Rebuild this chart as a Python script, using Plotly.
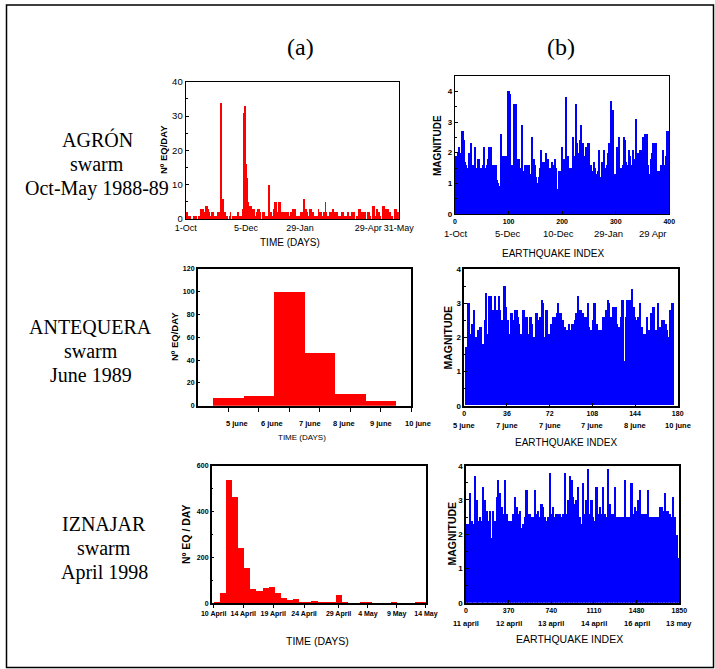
import plotly.graph_objects as go
import numpy as np

W, H = 715, 669

# ---------------- DATA ----------------
# (a) AGRON: earthquakes per day, 1 Oct 1988 - 31 May 1989
agron_daily = [2,2,1, 1,1, 0,0,0, 1,0,1,1, 0,0,1,0, 3,3,1,3, 2,2, 4,4, 3,3, 2,1, 1,2, 2,
               1,0,1,1, 1,2,2, 2,34,3, 3, 6,2, 2,0, 1,0,0,1, 2,0, 0,1,0,1, 1,1, 2,2, 1,1,0,1, 3,
               31,33,33,16,12,5,4,4, 4,3,3,3,3, 1,1, 2, 3,3, 2,2, 0,0, 2,2, 1,1,1,1,1, 10,
               2,2, 1,1, 3,3, 5,5, 2,2, 5,5, 1,1, 2,2,2,1,2,2, 2,2, 1,1, 2,2, 3,3,3, 1,1,
               0,1,0,1, 2,2, 1,1, 6,2, 3,2, 1,1, 3,1,3, 2,2, 0,1,0,1, 1, 3,1, 2,2, 1,1, 2,2,
               5,2, 1,1,1, 2,2,2, 3,3, 2,2,2,2, 0,1,0,1, 1, 2,2, 1,1,1,1, 2,2, 1,1, 0,
               2,2,2,2, 0,0, 1,1, 3,3, 2,2, 1,1, 2,2, 0,0, 2,2, 1,1, 0,0, 4,4, 1,1, 3,3, 2,2, 1,
               0,0, 4,4, 3,3, 1, 3,3, 2,2, 0, 1,1, 0,0, 3,3,2,2,2]
agron_time_labels = ["1-Oct", "5-Dec", "29-Jan", "29-Apr", "31-May"]
agron_time_label_days = [0, 68.5, 130, 207.5, 242]

# (b) AGRON: magnitude by earthquake index (each value = 2 consecutive events)
agron_mag = [1.9,1.8,2.0,2.2,1.4,2.0,2.7,2.7,2.4,1.7,
             1.6,1.5,1.5,2.0,2.3,1.5,1.6,1.6,2.2,1.4,
             1.5,1.8,1.8,1.5,1.2,1.5,1.6,2.2,1.5,1.6,
             1.8,2.2,1.6,2.2,1.6,1.4,1.6,1.6,1.6,1.1,
             1.0,0.9,2.6,1.5,1.9,1.9,1.9,1.9,1.5,4.0,
             4.0,3.9,1.6,1.4,1.6,3.6,3.6,1.3,1.8,1.8,
             1.5,1.2,2.9,1.4,1.2,1.6,1.6,1.3,1.6,1.6,
             1.3,2.5,1.6,1.8,1.6,1.2,1.0,0.9,1.2,1.5,
             2.1,1.2,1.7,1.7,2.0,1.7,1.8,1.4,1.5,1.4,
             1.7,1.6,1.5,1.8,1.5,0.8,0.35,1.4,1.4,2.2,
             1.8,1.8,0.6,3.8,1.8,1.9,1.5,1.5,1.4,1.5,
             2.5,1.9,3.6,2.3,1.9,2.0,2.4,2.9,2.3,2.3,
             1.8,1.9,2.2,1.9,2.3,2.3,1.6,1.4,1.1,1.7,
             1.5,1.3,1.2,1.4,2.1,1.0,1.2,1.7,1.6,2.1,
             1.5,1.6,2.0,2.3,2.3,3.7,3.4,3.4,1.2,1.3,
             1.3,2.2,2.1,2.5,1.5,1.5,1.6,2.5,2.4,1.7,
             1.5,1.6,2.1,1.9,1.5,1.6,2.1,1.8,3.1,2.0,
             2.0,1.8,2.1,1.6,2.1,2.5,1.9,2.6,2.6,2.6,
             1.6,1.3,1.8,2.0,2.3,2.3,2.3,2.3,1.3,1.4,
             1.2,1.4,1.6,1.6,2.1,1.6,1.9,2.7,2.7,1.9]
agron_n_events = 400
agron_index_ticks = [0, 100, 200, 300, 400]
agron_date_labels = ["1-Oct", "5-Dec", "10-Dec", "29-Jan", "29 Apr"]
agron_date_label_index = [1, 98, 193, 287, 368]

# (a) ANTEQUERA: earthquakes per day, June 1989
antequera_days = [1, 2, 3, 4, 5, 6]
antequera_daily = [7, 8.5, 99.5, 46.5, 10, 4.3]
antequera_time_labels = ["5 june", "6 june", "7 june", "8 june", "9 june", "10 june"]
antequera_time_label_pos = [1.29, 2.44, 3.67, 4.81, 6.01, 7.22]

# (b) ANTEQUERA: magnitude by earthquake index
antequera_mag = [0,1.7,1.7,3.0,3.0,2.1,2.4,2.4,2.8,2.0,
                 2.0,2.2,2.2,2.3,2.3,1.8,1.8,2.5,3.3,1.7,
                 2.1,3.2,3.2,2.8,2.8,2.6,3.2,2.8,2.8,3.2,
                 2.8,2.5,2.5,3.5,3.5,2.9,2.5,2.5,2.1,2.7,
                 2.7,2.3,2.5,2.8,2.8,2.6,2.4,2.1,2.1,2.8,
                 2.8,2.3,2.6,2.6,2.1,2.6,2.6,2.4,2.0,2.0,
                 2.7,2.7,2.3,2.5,2.6,3.1,3.0,2.0,2.0,2.8,
                 2.8,2.1,2.1,2.4,2.4,2.6,2.6,2.4,2.7,3.0,
                 2.7,2.7,2.5,2.5,2.3,2.3,2.2,2.2,2.4,2.2,
                 2.2,2.4,2.4,2.5,2.7,2.7,3.2,2.8,2.8,2.7,
                 2.7,2.4,2.6,2.6,3.0,2.3,2.2,2.2,2.5,3.0,
                 3.0,2.4,2.4,2.2,2.2,2.2,2.2,2.6,2.6,2.8,
                 2.8,3.1,3.0,2.6,2.6,2.9,2.9,2.9,2.9,2.4,
                 2.3,2.3,2.6,3.1,3.1,1.3,2.6,3.1,3.1,3.1,
                 3.1,3.4,2.9,2.9,2.6,2.5,2.6,2.6,3.0,2.3,
                 2.3,2.1,2.1,2.1,2.6,2.2,2.2,2.7,2.6,2.9,
                 2.9,2.2,2.2,3.0,2.3,2.3,2.2,2.5,2.5,2.4,
                 2.4,2.2,2.0,2.8,2.8,3.0,3.0,0,0,0]
antequera_n_events = 180
antequera_index_ticks = [0, 36, 72, 108, 144, 180]
antequera_date_labels = ["5 june", "7 june", "7 june", "7 june", "8 june", "10 june"]

# (a) IZNAJAR: earthquakes per day, 10 April - 14 May 1998
iznajar_daily = [3, 46, 538, 465, 243, 154, 62, 55, 67, 71, 48, 23, 15, 22, 7, 4, 10, 6, 4, 3,
                 36, 6, 2, 2, 3, 4, 2, 2, 2, 4, 2, 2, 2, 4, 3]
iznajar_time_labels = ["10 April", "14 April", "19 April", "24 April", "29 April", "4 May", "9 May", "14 May"]
iznajar_time_label_pos = [-0.45, 4.4, 9.3, 14.35, 20.0, 24.8, 29.5, 34.3]

# (b) IZNAJAR: magnitude by earthquake index (each value ~14.5 consecutive events)
iznajar_mag = [2.3,2.3,3.2,2.4,2.3,3.7,3.0,2.4,2.5,2.4,
               3.4,3.0,2.7,2.4,2.7,1.9,2.7,2.4,3.1,3.6,
               3.2,2.8,2.6,3.6,2.6,2.4,2.4,2.4,2.6,3.1,
               2.8,2.6,2.7,2.2,2.3,2.5,3.3,2.6,2.6,2.5,
               2.5,3.3,2.6,2.7,2.5,2.9,2.8,2.5,2.4,2.5,
               3.8,2.6,2.8,2.5,2.6,2.6,2.6,2.5,2.6,3.8,
               2.6,3.0,3.7,3.6,3.1,2.9,3.0,3.4,2.5,2.3,
               3.5,2.6,3.0,3.9,2.6,3.0,2.5,2.4,3.4,2.6,
               2.8,2.6,3.4,2.6,2.5,3.9,2.9,2.6,2.6,3.4,
               2.5,2.5,2.5,2.5,2.5,3.6,2.5,2.5,2.5,3.5,
               2.6,2.8,2.7,3.0,3.3,2.6,2.6,2.6,2.6,3.3,
               2.5,2.5,2.5,2.5,2.5,2.5,2.8,2.8,2.7,3.2,
               2.7,2.7,2.6,2.5,3.1,2.5,2.0,1.3]
iznajar_n_events = 1850
iznajar_index_ticks = [0, 370, 740, 1110, 1480, 1850]
iznajar_date_labels = ["11 april", "12 april", "13 april", "14 april", "16 april", "13 may"]

# ---------------- LAYOUT HELPERS ----------------
SANS = "Liberation Sans, Arial, sans-serif"
SERIF = "Liberation Serif, Times New Roman, serif"
RED = "#ff0000"
BLUE = "#0000ff"


def px(xp):
    return xp / W


def py(yp):
    return 1 - yp / H


def dom(x0, x1, y0, y1):
    return [px(x0), px(x1)], [py(y1), py(y0)]


def base_axis(**kw):
    d = dict(showline=True, linecolor="black", linewidth=1.2, mirror=True,
             showgrid=False, zeroline=False, ticks="inside", ticklen=3,
             tickcolor="black", tickwidth=1, fixedrange=True, tickangle=0,
             automargin=False)
    d.update(kw)
    return d


def index_centers(values, n_events):
    step = n_events / len(values)
    return (np.arange(len(values)) + 0.5) * step, step


fig = go.Figure()

# Panel 1
x1 = np.arange(len(agron_daily)) + 0.5
fig.add_trace(go.Bar(x=x1, y=agron_daily, width=1, marker=dict(color=RED, line=dict(width=0)),
                     xaxis="x", yaxis="y"))
# Panel 2
xc, st = index_centers(agron_mag, agron_n_events)
fig.add_trace(go.Bar(x=xc, y=agron_mag, width=st, marker=dict(color=BLUE, line=dict(width=0)),
                     xaxis="x2", yaxis="y2"))
# Panel 3
fig.add_trace(go.Bar(x=antequera_days, y=antequera_daily, width=1,
                     marker=dict(color=RED, line=dict(width=0)), xaxis="x3", yaxis="y3"))
# Panel 4
xc, st = index_centers(antequera_mag, antequera_n_events)
fig.add_trace(go.Bar(x=xc, y=antequera_mag, width=st, marker=dict(color=BLUE, line=dict(width=0)),
                     xaxis="x4", yaxis="y4"))
# Panel 5
fig.add_trace(go.Bar(x=np.arange(len(iznajar_daily)), y=iznajar_daily, width=1,
                     marker=dict(color=RED, line=dict(width=0)), xaxis="x5", yaxis="y5"))
# Panel 6
xc, st = index_centers(iznajar_mag, iznajar_n_events)
fig.add_trace(go.Bar(x=xc, y=iznajar_mag, width=st, marker=dict(color=BLUE, line=dict(width=0)),
                     xaxis="x6", yaxis="y6"))

P3_X0, P3_X1 = 197.7, 411.2
d1x, d1y = dom(185.7, 398.7, 81.7, 219)
d2x, d2y = dom(455, 669.3, 76, 214)
d3x, d3y = dom(P3_X0, P3_X1, 269, 405.7)
d4x, d4y = dom(464.3, 677.7, 269.3, 405.7)
d5x, d5y = dom(211.7, 426, 465.7, 603.3)
d6x, d6y = dom(466, 679.3, 465.7, 602.7)

f_reg9 = dict(family=SANS, size=9, color="black")
f_b8 = dict(family=SANS, size=8, color="black", weight="bold")
f_b7 = dict(family=SANS, size=7, color="black", weight="bold")

P3_RANGE = [0, 7]

layout = dict(
    width=W, height=H, margin=dict(l=0, r=0, t=0, b=0, autoexpand=False), autosize=False,
    paper_bgcolor="white", plot_bgcolor="white", showlegend=False, bargap=0,
    xaxis=base_axis(domain=d1x, anchor="y", range=[0, 242], tickvals=agron_time_label_days,
                    ticktext=agron_time_labels, tickfont=f_reg9, ticks=""),
    yaxis=base_axis(domain=d1y, anchor="x", range=[0, 40], dtick=10, tickfont=dict(family=SANS, size=9.5, color="black"),
                    minor=dict(ticks="inside", ticklen=2, dtick=5, tickcolor="black")),
    xaxis2=base_axis(domain=d2x, anchor="y2", range=[0, 400], tickvals=agron_index_ticks,
                     tickfont=f_b7),
    yaxis2=base_axis(domain=d2y, anchor="x2", range=[0, 4.5], tickvals=[0, 1, 2, 3, 4], tickfont=f_b8,
                     minor=dict(ticks="inside", ticklen=2, dtick=0.5, tickcolor="black")),
    xaxis3=base_axis(domain=d3x, anchor="y3", range=P3_RANGE, tickvals=[1, 2, 3, 4, 5, 6, 7],
                     showticklabels=False, ticks="outside", ticklen=5, linewidth=1.5),
    yaxis3=base_axis(domain=d3y, anchor="x3", range=[0, 120], dtick=20, tickfont=f_b7, linewidth=1.5),
    xaxis4=base_axis(domain=d4x, anchor="y4", range=[0, 180], tickvals=antequera_index_ticks,
                     tickfont=f_b7, linewidth=1.5),
    yaxis4=base_axis(domain=d4y, anchor="x4", range=[0, 4], dtick=1, tickfont=f_b8, linewidth=1.5,
                     minor=dict(ticks="inside", ticklen=2, dtick=0.5, tickcolor="black")),
    xaxis5=base_axis(domain=d5x, anchor="y5", range=[-0.77, 34.31], tickvals=iznajar_time_label_pos,
                     ticktext=iznajar_time_labels, tickfont=dict(family=SANS, size=7, color="black", weight="bold"),
                     ticks="outside", ticklen=3, linewidth=1.5),
    yaxis5=base_axis(domain=d5y, anchor="x5", range=[0, 600], dtick=200, tickfont=f_b7, linewidth=1.5,
                     minor=dict(ticks="inside", ticklen=2, dtick=100, tickcolor="black")),
    xaxis6=base_axis(domain=d6x, anchor="y6", range=[0, 1850], tickvals=iznajar_index_ticks,
                     tickfont=f_b7, linewidth=1.5),
    yaxis6=base_axis(domain=d6y, anchor="x6", range=[0, 4], dtick=1, tickfont=f_b8, linewidth=1.5,
                     minor=dict(ticks="inside", ticklen=2, dtick=0.5, tickcolor="black")),
)
fig.update_layout(**layout)

ann = []


def text_px(x, y, t, size, family=SANS, angle=0, weight="normal", xanchor="center"):
    ann.append(dict(x=px(x), y=py(y), xref="paper", yref="paper", text=t, showarrow=False,
                    xanchor=xanchor, yanchor="middle", textangle=angle,
                    font=dict(family=family, size=size, color="black", weight=weight)))


# column headers
text_px(300, 47, "(a)", 24, SERIF)
text_px(561, 47, "(b)", 24, SERIF)

# swarm labels
for (cx, ys, lines) in [(97, [139.5, 164, 188], ["AGRÓN", "swarm", "Oct-May 1988-89"]),
                        (91, [327, 351, 375], ["ANTEQUERA", "swarm", "June 1989"]),
                        (104, [524, 548, 572], ["IZNAJAR", "swarm", "April 1998"])]:
    for yy, t in zip(ys, lines):
        text_px(cx, yy, t, 20, SERIF)

# axis titles
text_px(290, 242, "TIME (DAYS)", 10)
text_px(163, 150, "Nº EQ/DAY", 9.5, angle=-90, weight="bold")
text_px(553, 253.5, "EARTHQUAKE INDEX", 10)
text_px(437, 146, "MAGNITUDE", 10, angle=-90, weight="bold")
text_px(302, 437.5, "TIME (DAYS)", 8)
text_px(174, 337, "Nº EQ/DAY", 9.5, angle=-90, weight="bold")
text_px(566, 442, "EARTHQUAKE INDEX", 10)
text_px(447.5, 337, "MAGNITUDE", 10.5, angle=-90, weight="bold")
text_px(317, 641, "TIME (DAYS)", 10.5)
text_px(186, 535, "Nº EQ / DAY", 10.5, angle=-90, weight="bold")
text_px(569, 639, "EARTHQUAKE INDEX", 10.5)
text_px(451.5, 534, "MAGNITUDE", 10.5, angle=-90, weight="bold")

# panel 3 day labels (offset from the ticks); placed in paper space so the last one may sit past the axis end
p3_scale = (P3_X1 - P3_X0) / (P3_RANGE[1] - P3_RANGE[0])
for pos, t in zip(antequera_time_label_pos, antequera_time_labels):
    text_px(P3_X0 + (pos - P3_RANGE[0]) * p3_scale, 423, t, 7.5, weight="bold")

# date rows under the earthquake-index axes
for pos, t in zip(agron_date_label_index, agron_date_labels):
    ann.append(dict(x=pos, y=py(233.5), xref="x2", yref="paper", text=t, showarrow=False,
                    xanchor="center", yanchor="middle", font=dict(family=SANS, size=9.5, color="black")))
for pos, t in zip(antequera_index_ticks, antequera_date_labels):
    ann.append(dict(x=pos, y=py(426), xref="x4", yref="paper", text=t, showarrow=False,
                    xanchor="center", yanchor="middle",
                    font=dict(family=SANS, size=7.5, color="black", weight="bold")))
for pos, t in zip(iznajar_index_ticks, iznajar_date_labels):
    ann.append(dict(x=pos, y=py(623), xref="x6", yref="paper", text=t, showarrow=False,
                    xanchor="center", yanchor="middle",
                    font=dict(family=SANS, size=7.5, color="black", weight="bold")))

fig.update_layout(annotations=ann)

# outer frame
fig.add_shape(type="rect", xref="paper", yref="paper", x0=px(6.5), x1=px(713.5), y0=py(667.5), y1=py(5),
              line=dict(color="black", width=1.5), fillcolor="rgba(0,0,0,0)")

fig.write_html("out.html", config={"displayModeBar": False},
               post_script="document.body.style.margin='0';document.body.style.padding='0';"
                           "document.body.style.overflow='hidden';"
                           "document.documentElement.style.overflow='hidden';")
